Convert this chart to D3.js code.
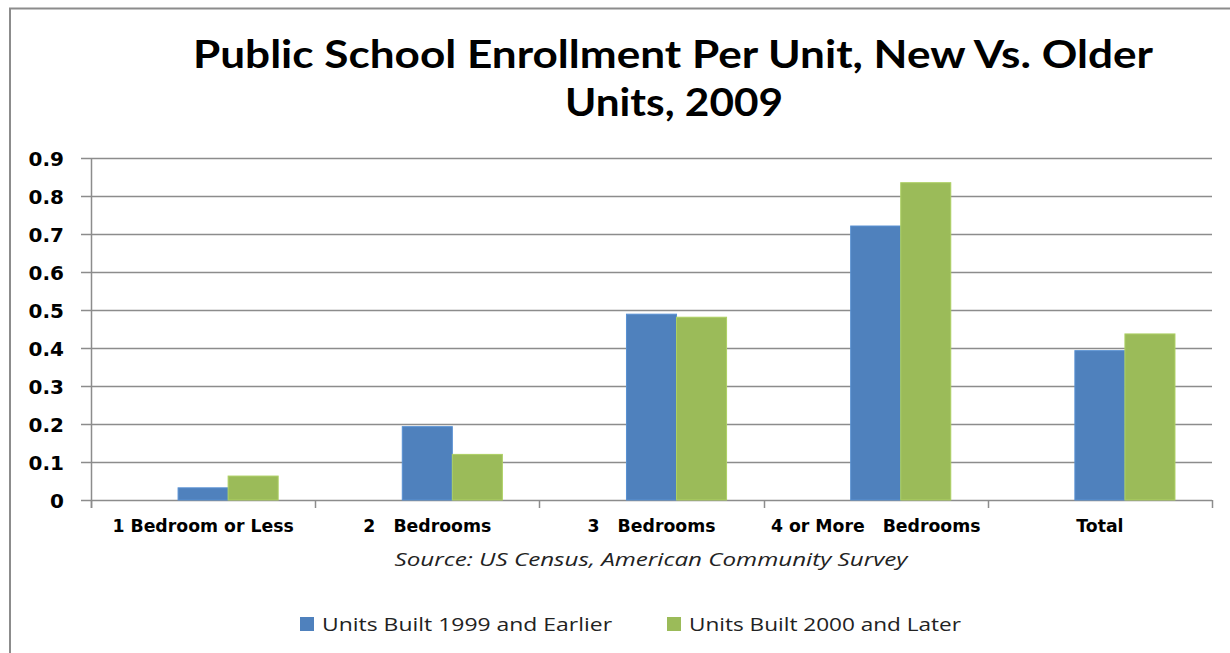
<!DOCTYPE html>
<html>
<head>
<meta charset="utf-8">
<script src="https://cdn.jsdelivr.net/npm/d3@7"></script>
<style>
  html, body { margin: 0; padding: 0; background: #fff; }
  svg { display: block; }
  text { white-space: pre; }
</style>
</head>
<body>
<svg id="chart" width="1230" height="653"></svg>
<script>
// Chart data
const categories = ["1 Bedroom or Less", "2   Bedrooms", "3   Bedrooms", "4 or More   Bedrooms", "Total"];
const olderUnits = [0.032, 0.193, 0.489, 0.721, 0.393];   // Units Built 1999 and Earlier
const newerUnits = [0.063, 0.120, 0.481, 0.835, 0.437];   // Units Built 2000 and Later
const seriesNames = ["Units Built 1999 and Earlier", "Units Built 2000 and Later"];
const yTicks = [0, 0.1, 0.2, 0.3, 0.4, 0.5, 0.6, 0.7, 0.8, 0.9];
const titleLines = ["Public School Enrollment Per Unit, New Vs. Older", "Units, 2009"];
const sourceNote = "Source: US Census, American Community Survey";

const colors = ["#4F81BD", "#9BBB59"];

const svg = d3.select("#chart");
const W = 1230, H = 653;

// Outer chart border
svg.append("path")
  .attr("d", `M10,${H} L10,8.5 L${W},8.5`)
  .attr("fill", "none")
  .attr("stroke", "#8c8c8c")
  .attr("stroke-width", 2);

// Title
const titleFont = "Lato, 'Open Sans', sans-serif";
svg.append("text")
  .attr("x", 673).attr("y", 68)
  .attr("text-anchor", "middle")
  .attr("font-family", titleFont).attr("font-weight", 700).attr("font-size", 39)
  .attr("textLength", 960).attr("lengthAdjust", "spacingAndGlyphs")
  .text(titleLines[0]);
svg.append("text")
  .attr("x", 674).attr("y", 116)
  .attr("text-anchor", "middle")
  .attr("font-family", titleFont).attr("font-weight", 700).attr("font-size", 39)
  .attr("textLength", 218).attr("lengthAdjust", "spacingAndGlyphs")
  .text(titleLines[1]);

// Plot area
const plot = { left: 91, right: 1212, top: 158, bottom: 500 };

const y = d3.scaleLinear().domain([0, 0.9]).range([plot.bottom, plot.top]);
const x0 = d3.scaleBand().domain(categories).range([plot.left, plot.right]).paddingInner(0).paddingOuter(0);
// Three slots per category; the leading slot stays empty
const slots = ["lead", "older", "newer"];
const x1 = d3.scaleBand().domain(slots).range([0, x0.bandwidth()]).paddingOuter(0.74);

// Y tick labels
const yAxis = d3.axisLeft(y).tickValues(yTicks).tickSize(0).tickFormat(d => d === 0 ? "0" : d3.format(".1f")(d));
const gy = svg.append("g").attr("transform", `translate(${plot.left},0)`).call(yAxis);
gy.select(".domain").remove();
gy.selectAll("text")
  .attr("x", -27)
  .attr("dy", "0.35em")
  .attr("font-family", "'DejaVu Sans', sans-serif")
  .attr("font-weight", 700)
  .attr("font-size", 20)
  .attr("fill", "#000");

// Horizontal gridlines with short left ticks
svg.append("g").selectAll("line")
  .data(yTicks)
  .join("line")
  .attr("x1", plot.left - 10).attr("x2", plot.right)
  .attr("y1", d => Math.round(y(d)) + 0.5).attr("y2", d => Math.round(y(d)) + 0.5)
  .attr("stroke", "#8c8c8c")
  .attr("stroke-width", 1.5);

// Vertical axis line
svg.append("line")
  .attr("x1", plot.left + 0.5).attr("x2", plot.left + 0.5)
  .attr("y1", plot.top).attr("y2", plot.bottom + 8)
  .attr("stroke", "#8c8c8c").attr("stroke-width", 1.5);

// Category boundary ticks
const bounds = categories.map(c => x0(c)).concat([plot.right]);
svg.append("g").selectAll("line")
  .data(bounds)
  .join("line")
  .attr("x1", d => Math.round(d) + 0.5).attr("x2", d => Math.round(d) + 0.5)
  .attr("y1", plot.bottom).attr("y2", plot.bottom + 8)
  .attr("stroke", "#8c8c8c").attr("stroke-width", 1.5);

// Bars
const rows = categories.map((c, i) => ({ cat: c, values: [
  { slot: "older", v: olderUnits[i], color: colors[0] },
  { slot: "newer", v: newerUnits[i], color: colors[1] }
]}));

const groups = svg.append("g").selectAll("g")
  .data(rows)
  .join("g")
  .attr("transform", d => `translate(${x0(d.cat)},0)`);

groups.selectAll("rect")
  .data(d => d.values)
  .join("rect")
  .attr("x", d => x1(d.slot))
  .attr("width", x1.bandwidth())
  .attr("y", d => y(d.v))
  .attr("height", d => y(0) - y(d.v))
  .attr("fill", d => d.color)
  .attr("stroke", d => d3.color(d.color).brighter(0.3))
  .attr("stroke-width", 1);

// Category labels
svg.append("g").selectAll("text")
  .data(categories)
  .join("text")
  .attr("x", d => x0(d) + x0.bandwidth() / 2)
  .attr("y", 532)
  .attr("text-anchor", "middle")
  .attr("font-family", "'DejaVu Sans', sans-serif")
  .attr("font-weight", 700)
  .attr("font-size", 17.3)
  .attr("fill", "#000")
  .text(d => d);

// Source note
svg.append("text")
  .attr("x", 651).attr("y", 566)
  .attr("text-anchor", "middle")
  .attr("font-family", "'Open Sans', sans-serif")
  .attr("font-style", "italic")
  .attr("font-size", 19)
  .attr("fill", "#222")
  .attr("textLength", 513).attr("lengthAdjust", "spacingAndGlyphs")
  .text(sourceNote);

// Legend
const legendItems = [
  { name: seriesNames[0], color: colors[0], x: 300, w: 290 },
  { name: seriesNames[1], color: colors[1], x: 667, w: 272 }
];
const lg = svg.append("g").selectAll("g").data(legendItems).join("g")
  .attr("transform", d => `translate(${d.x},617)`);
lg.append("rect").attr("width", 14).attr("height", 14).attr("fill", d => d.color);
lg.append("text")
  .attr("x", 22).attr("y", 14)
  .attr("font-family", "'Open Sans', sans-serif")
  .attr("font-size", 19)
  .attr("fill", "#222")
  .attr("textLength", d => d.w).attr("lengthAdjust", "spacingAndGlyphs")
  .text(d => d.name);
</script>
</body>
</html>
